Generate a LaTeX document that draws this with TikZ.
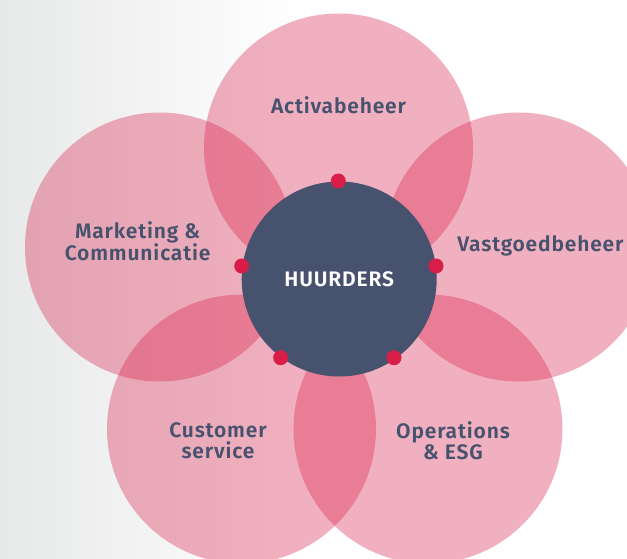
\documentclass[tikz,border=0pt]{standalone}
\usepackage{fontspec}
\setmainfont{Fira Sans}[BoldFont={Fira Sans SemiBold}, BoldFeatures={LetterSpace=4}]
\definecolor{brandred}{HTML}{D81E48}
\definecolor{slate}{HTML}{46526E}
\definecolor{bggray}{HTML}{E7E8E8}

\begin{document}
\begin{tikzpicture}[x=1pt,y=-1pt,
  petal/.style={circle, fill=brandred, fill opacity=0.35, minimum size=269pt, inner sep=0pt},
  hub/.style={circle, fill=slate, minimum size=195pt, inner sep=0pt},
  dot/.style={circle, fill=brandred, minimum size=15pt, inner sep=0pt},
  petaltext/.style={text=slate, font=\bfseries\fontsize{21}{21}\selectfont, align=center, inner sep=0pt},
  hubtext/.style={text=white, font=\bfseries\fontsize{21}{21}\selectfont, inner sep=0pt}
]
\useasboundingbox (0,0) rectangle (627,558);
% soft grey fade on the left edge
\fill[white] (0,0) rectangle (627,558);
\shade[left color=bggray, right color=white] (0,0) rectangle (300,558);

% five overlapping petals
\node[petal] (pTop)    at (338.5,148) {};
\node[petal] (pLeft)   at (159.5,247) {};
\node[petal] (pRight)  at (518.5,247) {};
\node[petal] (pBLeft)  at (241.5,429) {};
\node[petal] (pBRight) at (428,429) {};

% central hub
\node[hub] (hub) at (339.2,279) {};
\node[hubtext] (hubLabel) at (hub.center) {HUURDERS};

% markers on the hub rim
\node[dot] (dTop)    at (338.3,181) {};
\node[dot] (dLeft)   at (241.7,266) {};
\node[dot] (dRight)  at (436,266) {};
\node[dot] (dBLeft)  at (280.7,357.7) {};
\node[dot] (dBRight) at (394,357.7) {};

% petal captions
\node[petaltext] (tTop)    at (338.5,105.5) {Activabeheer};
\node[petaltext] (tLeft)   at (137.6,241) {Marketing \&\\Communicatie};
\node[petaltext] (tRight)  at (540.4,245.5) {Vastgoedbeheer};
\node[petaltext] (tBLeft)  at (218,441) {Customer\\service};
\node[petaltext] (tBRight) at (453,441) {Operations\\\& ESG};
\end{tikzpicture}
\end{document}
